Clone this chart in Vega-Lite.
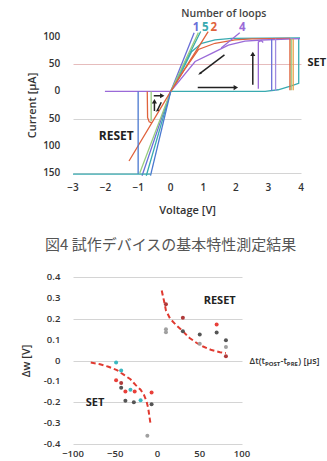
{
  "$schema": "https://vega.github.io/schema/vega-lite/v6.json",
  "padding": {"left": 20, "top": 9, "right": 0, "bottom": 0},
  "background": "white",
  "spacing": 18,
  "resolve": {"scale": {"color": "independent", "shape": "independent"}},
  "config": {"view": {"stroke": null}, "font": "Open Sans"},
  "vconcat": [
    {
      "width": 228,
      "height": 136,
      "layer": [
        {
          "data": {"values": [
            {"s": "a", "k": "4", "o": 1, "x": -2.02, "y": 0}, {"s": "a", "k": "4", "o": 2, "x": 0, "y": 0},
            {"s": "b", "k": "5", "o": 1, "x": 0, "y": 0}, {"s": "b", "k": "5", "o": 2, "x": 2.9, "y": 0}, {"s": "b", "k": "5", "o": 3, "x": 3.3, "y": 3}, {"s": "b", "k": "5", "o": 4, "x": 3.7, "y": 10}, {"s": "b", "k": "5", "o": 5, "x": 3.93, "y": 15}, {"s": "b", "k": "5", "o": 6, "x": 3.93, "y": 98},
            {"s": "c", "k": "5", "o": 1, "x": 0, "y": 0}, {"s": "c", "k": "5", "o": 2, "x": 0.3, "y": 32}, {"s": "c", "k": "5", "o": 3, "x": 0.64, "y": 73}, {"s": "c", "k": "5", "o": 4, "x": 0.95, "y": 88.5}, {"s": "c", "k": "5", "o": 5, "x": 1.36, "y": 94.6}, {"s": "c", "k": "5", "o": 6, "x": 1.87, "y": 97.6}, {"s": "c", "k": "5", "o": 7, "x": 3.97, "y": 98.5},
            {"s": "d", "k": "2", "o": 1, "x": 0, "y": 0}, {"s": "d", "k": "2", "o": 2, "x": 0.4, "y": 38}, {"s": "d", "k": "2", "o": 3, "x": 0.85, "y": 77}, {"s": "d", "k": "2", "o": 4, "x": 1.36, "y": 88.5}, {"s": "d", "k": "2", "o": 5, "x": 1.97, "y": 94.6}, {"s": "d", "k": "2", "o": 6, "x": 2.5, "y": 96.5}, {"s": "d", "k": "2", "o": 7, "x": 3.66, "y": 97.5},
            {"s": "e", "k": "4", "o": 1, "x": 0, "y": 0}, {"s": "e", "k": "4", "o": 2, "x": 0.75, "y": 55}, {"s": "e", "k": "4", "o": 3, "x": 1.26, "y": 70}, {"s": "e", "k": "4", "o": 4, "x": 1.77, "y": 85}, {"s": "e", "k": "4", "o": 5, "x": 2.28, "y": 92.6}, {"s": "e", "k": "4", "o": 6, "x": 2.8, "y": 94.5}, {"s": "e", "k": "4", "o": 7, "x": 3.97, "y": 97},
            {"s": "f", "k": "4", "o": 1, "x": 2.69, "y": 5}, {"s": "f", "k": "4", "o": 2, "x": 2.69, "y": 91}, {"s": "f", "k": "4", "o": 3, "x": 2.78, "y": 93.5}, {"s": "f", "k": "4", "o": 4, "x": 2.84, "y": 90},
            {"s": "g", "k": "1", "o": 1, "x": 3.1, "y": 1}, {"s": "g", "k": "1", "o": 2, "x": 3.1, "y": 97},
            {"s": "h", "k": "v", "o": 1, "x": 3.22, "y": 1}, {"s": "h", "k": "v", "o": 2, "x": 3.22, "y": 97},
            {"s": "i", "k": "g", "o": 1, "x": 3.7, "y": 2}, {"s": "i", "k": "g", "o": 2, "x": 3.7, "y": 97},
            {"s": "j", "k": "2", "o": 1, "x": 3.66, "y": 2}, {"s": "j", "k": "2", "o": 2, "x": 3.66, "y": 97},
            {"s": "k", "k": "o", "o": 1, "x": 3.76, "y": 2}, {"s": "k", "k": "o", "o": 2, "x": 3.76, "y": 97},
            {"s": "l", "k": "1", "o": 1, "x": -0.88, "y": -155}, {"s": "l", "k": "1", "o": 2, "x": 0, "y": 0}, {"s": "l", "k": "1", "o": 3, "x": 0.72, "y": 108},
            {"s": "m", "k": "5", "o": 1, "x": -0.75, "y": -155}, {"s": "m", "k": "5", "o": 2, "x": 0, "y": 0}, {"s": "m", "k": "5", "o": 3, "x": 0.92, "y": 110},
            {"s": "n", "k": "g", "o": 1, "x": -0.95, "y": -150}, {"s": "n", "k": "g", "o": 2, "x": 0, "y": 0}, {"s": "n", "k": "g", "o": 3, "x": 0.85, "y": 108},
            {"s": "p", "k": "2", "o": 1, "x": -1.28, "y": -128}, {"s": "p", "k": "2", "o": 2, "x": 0, "y": 0}, {"s": "p", "k": "2", "o": 3, "x": 1.15, "y": 110},
            {"s": "q", "k": "4", "o": 1, "x": 1.55, "y": 80}, {"s": "q", "k": "4", "o": 2, "x": 2.12, "y": 108},
            {"s": "r", "k": "b", "o": 1, "x": -0.62, "y": -155}, {"s": "r", "k": "b", "o": 2, "x": 0, "y": 0},
            {"s": "t", "k": "b", "o": 1, "x": -1.0, "y": 0}, {"s": "t", "k": "b", "o": 2, "x": -1.0, "y": -152},
            {"s": "u", "k": "5", "o": 1, "x": -3, "y": -152}, {"s": "u", "k": "5", "o": 2, "x": -0.62, "y": -152},
            {"s": "w", "k": "2", "o": 1, "x": -0.72, "y": 0}, {"s": "w", "k": "2", "o": 2, "x": -0.71, "y": -48}, {"s": "w", "k": "2", "o": 3, "x": -0.66, "y": -56}, {"s": "w", "k": "2", "o": 4, "x": -0.58, "y": -58},
            {"s": "z", "k": "g", "o": 1, "x": -0.6, "y": 0}, {"s": "z", "k": "g", "o": 2, "x": -0.6, "y": -55}
          ]},
          "mark": {"type": "line", "strokeWidth": 1.3, "clip": false},
          "encoding": {
            "x": {"field": "x", "type": "quantitative", "scale": {"domain": [-3, 4], "nice": false, "zero": false},
              "axis": {"title": "Voltage [V]", "labels": false, "grid": false, "domain": false, "ticks": false, "titleFontSize": 11, "titleFontWeight": 600, "titleColor": "#333", "titlePadding": 31}},
            "y": {"field": "y", "type": "quantitative", "scale": {"domain": [-150, 100], "nice": false, "zero": false},
              "axis": {"title": "Current [µA]", "values": [-150, -100, -50, 0, 50, 100], "labels": false, "grid": true,
                "gridColor": {"condition": {"test": "datum.value === 50 || datum.value === -100", "value": "#e6bcbc"}, "value": "#d4d4d4"},
                "domain": false, "ticks": false, "titleFontSize": 11, "titleFontWeight": 600, "titleColor": "#333", "titlePadding": 36}},
            "color": {"field": "k", "type": "nominal", "legend": null,
              "scale": {"domain": ["1", "5", "2", "4", "g", "o", "b", "v"], "range": ["#6a6fd8", "#38aab0", "#e0623c", "#9a6ad8", "#98cc80", "#e8a048", "#4a78d0", "#a08ce0"]}},
            "detail": {"field": "s"},
            "order": {"field": "o", "type": "quantitative"}
          }
        },
        {
          "mark": {"type": "rule", "color": "#cfcfcf", "strokeWidth": 1},
          "encoding": {"x": {"datum": 0}, "y": {"datum": 117}, "y2": {"datum": -176}}
        },
        {
          "data": {"values": [{"v": -3}, {"v": -2}, {"v": -1}, {"v": 0}, {"v": 1}, {"v": 2}, {"v": 3}, {"v": 4}]},
          "mark": {"type": "text", "fontSize": 10, "fontWeight": 600, "color": "#333", "align": "center", "baseline": "middle"},
          "encoding": {"x": {"field": "v", "type": "quantitative"}, "y": {"datum": -177}, "text": {"field": "v", "type": "quantitative", "format": "d"}}
        },
        {
          "data": {"values": [{"v": -150, "t": "150"}, {"v": -100, "t": "100"}, {"v": -50, "t": "50"}, {"v": 0, "t": "0"}, {"v": 50, "t": "50"}, {"v": 100, "t": "100"}]},
          "mark": {"type": "text", "fontSize": 10, "fontWeight": 600, "color": "#333", "align": "right", "baseline": "middle"},
          "encoding": {"y": {"field": "v", "type": "quantitative"}, "x": {"datum": -3.39}, "text": {"field": "t"}}
        },
        {
          "data": {"values": [
            {"x": 1.65, "y": 67, "x2": 0.9, "y2": 33, "d": "dl"},
            {"x": 0.83, "y": 7, "x2": 2.0, "y2": 7, "d": "r"},
            {"x": 2.52, "y": 12, "x2": 2.52, "y2": 69, "d": "u"},
            {"x": -0.52, "y": -8, "x2": -0.26, "y2": -8, "d": "r"},
            {"x": -0.5, "y": -36, "x2": -0.5, "y2": -18, "d": "u"},
            {"x": -0.29, "y": -20, "x2": -0.41, "y2": -35, "d": "dl"}
          ]},
          "layer": [
            {
              "mark": {"type": "rule", "color": "#222", "strokeWidth": 1.5},
              "encoding": {"x": {"field": "x", "type": "quantitative"}, "y": {"field": "y", "type": "quantitative"}, "x2": {"field": "x2"}, "y2": {"field": "y2"}}
            },
            {
              "mark": {"type": "point", "filled": true, "color": "#222", "opacity": 1, "size": 26},
              "encoding": {"x": {"field": "x2", "type": "quantitative"}, "y": {"field": "y2", "type": "quantitative"},
                "shape": {"field": "d", "type": "nominal", "legend": null, "scale": {"domain": ["r", "u", "dl"], "range": ["triangle-right", "triangle-up", "M-0.72,0.54L0.7,0.1L0.1,-0.7Z"]}}}
            }
          ]
        },
        {
          "data": {"values": [{"x": -1.67, "y": -82, "t": "RESET"}]},
          "mark": {"type": "text", "fontSize": 12, "fontWeight": "bold", "color": "#222", "align": "center", "baseline": "middle"},
          "encoding": {"x": {"field": "x", "type": "quantitative"}, "y": {"field": "y", "type": "quantitative"}, "text": {"field": "t"}}
        },
        {
          "data": {"values": [{"x": 4.2, "y": 52, "t": "SET"}]},
          "mark": {"type": "text", "fontSize": 11, "fontWeight": "bold", "color": "#222", "align": "left", "baseline": "middle", "limit": 19, "ellipsis": "\u200b"},
          "encoding": {"x": {"field": "x", "type": "quantitative"}, "y": {"field": "y", "type": "quantitative"}, "text": {"field": "t"}}
        },
        {
          "data": {"values": [{"x": 1.63, "y": 142, "t": "Number of loops"}]},
          "mark": {"type": "text", "fontSize": 10.5, "fontWeight": 600, "color": "#444", "align": "center", "baseline": "middle"},
          "encoding": {"x": {"field": "x", "type": "quantitative"}, "y": {"field": "y", "type": "quantitative"}, "text": {"field": "t"}}
        },
        {
          "data": {"values": [
            {"x": 0.78, "y": 116, "t": "1", "k": "1"},
            {"x": 1.06, "y": 116, "t": "5", "k": "5"},
            {"x": 1.32, "y": 116, "t": "2", "k": "2"},
            {"x": 2.2, "y": 116, "t": "4", "k": "4"}
          ]},
          "mark": {"type": "text", "fontSize": 11.5, "fontWeight": "bold", "align": "center", "baseline": "middle"},
          "encoding": {"x": {"field": "x", "type": "quantitative"}, "y": {"field": "y", "type": "quantitative"}, "text": {"field": "t"}, "color": {"field": "k", "type": "nominal", "legend": null}}
        },
        {
          "data": {"values": [{"x": 0.0, "y": -283, "t": "図4 試作デバイスの基本特性測定結果"}]},
          "mark": {"type": "text", "font": "Noto Sans CJK JP", "fontSize": 15, "color": "#555", "align": "center", "baseline": "middle"},
          "encoding": {"x": {"field": "x", "type": "quantitative"}, "y": {"field": "y", "type": "quantitative"}, "text": {"field": "t"}}
        }
      ]
    },
    {
      "width": 169,
      "height": 167,
      "layer": [
        {
          "data": {"values": [
            {"s": "reset", "o": 1, "x": 5, "y": 0.335}, {"s": "reset", "o": 2, "x": 8, "y": 0.28}, {"s": "reset", "o": 3, "x": 10, "y": 0.24}, {"s": "reset", "o": 4, "x": 15, "y": 0.2}, {"s": "reset", "o": 5, "x": 22, "y": 0.17}, {"s": "reset", "o": 6, "x": 30, "y": 0.14}, {"s": "reset", "o": 7, "x": 38, "y": 0.108}, {"s": "reset", "o": 8, "x": 46, "y": 0.085}, {"s": "reset", "o": 9, "x": 54, "y": 0.067}, {"s": "reset", "o": 10, "x": 64, "y": 0.05}, {"s": "reset", "o": 11, "x": 74, "y": 0.04}, {"s": "reset", "o": 12, "x": 81, "y": 0.036},
            {"s": "set", "o": 1, "x": -79, "y": -0.01}, {"s": "set", "o": 2, "x": -68, "y": -0.018}, {"s": "set", "o": 3, "x": -58, "y": -0.03}, {"s": "set", "o": 4, "x": -48, "y": -0.046}, {"s": "set", "o": 5, "x": -40, "y": -0.068}, {"s": "set", "o": 6, "x": -32, "y": -0.09}, {"s": "set", "o": 7, "x": -26, "y": -0.117}, {"s": "set", "o": 8, "x": -20, "y": -0.14}, {"s": "set", "o": 9, "x": -16, "y": -0.165}, {"s": "set", "o": 10, "x": -13, "y": -0.195}, {"s": "set", "o": 11, "x": -11, "y": -0.228}, {"s": "set", "o": 12, "x": -9.5, "y": -0.27}, {"s": "set", "o": 13, "x": -8, "y": -0.31}
          ]},
          "mark": {"type": "line", "color": "#e03a30", "strokeWidth": 2, "strokeDash": [5, 3], "clip": false},
          "encoding": {
            "x": {"field": "x", "type": "quantitative", "scale": {"domain": [-100, 100], "nice": false, "zero": false},
              "axis": {"title": null, "labels": false, "grid": false, "domain": false, "ticks": false}},
            "y": {"field": "y", "type": "quantitative", "scale": {"domain": [-0.4, 0.4], "nice": false, "zero": false},
              "axis": {"title": "Δw [V]", "values": [-0.4, -0.3, -0.2, -0.1, 0, 0.1, 0.2, 0.3, 0.4], "labels": false, "grid": true, "gridColor": "#d4d4d4", "domain": false, "ticks": false, "titleFontSize": 11, "titleFontWeight": 600, "titleColor": "#333", "titlePadding": 42}},
            "detail": {"field": "s"},
            "order": {"field": "o", "type": "quantitative"}
          }
        },
        {
          "mark": {"type": "rule", "color": "#cfcfcf", "strokeWidth": 1},
          "encoding": {"x": {"datum": 0}, "y": {"datum": 0.41}, "y2": {"datum": -0.42}}
        },
        {
          "data": {"values": [{"v": -100}, {"v": -50}, {"v": 0}, {"v": 50}, {"v": 100}]},
          "mark": {"type": "text", "fontSize": 9.5, "fontWeight": 600, "color": "#333", "align": "center", "baseline": "middle"},
          "encoding": {"x": {"field": "v", "type": "quantitative"}, "y": {"datum": -0.45}, "text": {"field": "v", "type": "quantitative", "format": "d"}}
        },
        {
          "data": {"values": [{"v": 0.4, "t": "0.4"}, {"v": 0.3, "t": "0.3"}, {"v": 0.2, "t": "0.2"}, {"v": 0.1, "t": "0.1"}, {"v": 0, "t": "0"}, {"v": -0.1, "t": "-0.1"}, {"v": -0.2, "t": "-0.2"}, {"v": -0.3, "t": "-0.3"}, {"v": -0.4, "t": "-0.4"}]},
          "mark": {"type": "text", "fontSize": 9.5, "fontWeight": 600, "color": "#333", "align": "right", "baseline": "middle"},
          "encoding": {"y": {"field": "v", "type": "quantitative"}, "x": {"datum": -115}, "text": {"field": "t"}}
        },
        {
          "data": {"values": [
            {"x": 10, "y": 0.27, "c": "dr"}, {"x": 30, "y": 0.205, "c": "dr"}, {"x": 70, "y": 0.172, "c": "r"}, {"x": 10, "y": 0.15, "c": "lg"}, {"x": 10, "y": 0.135, "c": "lg"}, {"x": 30, "y": 0.14, "c": "dg"}, {"x": 50, "y": 0.125, "c": "dg"}, {"x": 70, "y": 0.134, "c": "dg"}, {"x": 81, "y": 0.097, "c": "dg"}, {"x": 81, "y": 0.065, "c": "lg"}, {"x": 81, "y": 0.02, "c": "dr"}, {"x": 50, "y": 0.08, "c": "lg"},
            {"x": -49, "y": -0.01, "c": "t"}, {"x": -43, "y": -0.048, "c": "t"}, {"x": -49, "y": -0.095, "c": "r"}, {"x": -43, "y": -0.108, "c": "dr"}, {"x": -43, "y": -0.13, "c": "dg"}, {"x": -32, "y": -0.14, "c": "t"}, {"x": -38, "y": -0.148, "c": "r"}, {"x": -27, "y": -0.148, "c": "r"}, {"x": -7, "y": -0.153, "c": "r"}, {"x": -38, "y": -0.193, "c": "dg"}, {"x": -28, "y": -0.2, "c": "dg"}, {"x": -20, "y": -0.19, "c": "t"}, {"x": -7, "y": -0.21, "c": "dg"}, {"x": -12, "y": -0.36, "c": "lg"}
          ]},
          "mark": {"type": "circle", "size": 16, "opacity": 1},
          "encoding": {
            "x": {"field": "x", "type": "quantitative"},
            "y": {"field": "y", "type": "quantitative"},
            "color": {"field": "c", "type": "nominal", "legend": null, "scale": {"domain": ["dr", "r", "dg", "lg", "t"], "range": ["#b03a3a", "#e8403a", "#555555", "#a0a0a0", "#3ab8c0"]}}
          }
        },
        {
          "data": {"values": [
            {"x": 73.6, "y": 0.286, "t": "RESET"},
            {"x": -74, "y": -0.205, "t": "SET"}
          ]},
          "mark": {"type": "text", "fontSize": 11, "fontWeight": "bold", "color": "#222", "align": "center", "baseline": "middle"},
          "encoding": {"x": {"field": "x", "type": "quantitative"}, "y": {"field": "y", "type": "quantitative"}, "text": {"field": "t"}}
        },
        {
          "data": {"values": [
            {"x": 109, "y": 0, "t": "Δt(t"},
            {"x": 145.6, "y": 0, "t": "-t"}
          ]},
          "mark": {"type": "text", "fontSize": 9, "fontWeight": 600, "color": "#333", "align": "left", "baseline": "middle"},
          "encoding": {"x": {"field": "x", "type": "quantitative"}, "y": {"field": "y", "type": "quantitative"}, "text": {"field": "t"}}
        },
        {
          "data": {"values": [{"x": 166.6, "y": 0, "t": ") [μs]"}]},
          "mark": {"type": "text", "fontSize": 9, "fontWeight": 600, "color": "#333", "align": "left", "baseline": "middle", "limit": 27, "ellipsis": "\u200b"},
          "encoding": {"x": {"field": "x", "type": "quantitative"}, "y": {"field": "y", "type": "quantitative"}, "text": {"field": "t"}}
        },
        {
          "data": {"values": [
            {"x": 127.2, "y": 0, "t": "POST"},
            {"x": 153.1, "y": 0, "t": "PRE"}
          ]},
          "mark": {"type": "text", "fontSize": 6, "fontWeight": "bold", "color": "#333", "align": "left", "baseline": "middle", "dy": 3},
          "encoding": {"x": {"field": "x", "type": "quantitative"}, "y": {"field": "y", "type": "quantitative"}, "text": {"field": "t"}}
        }
      ]
    }
  ]
}
